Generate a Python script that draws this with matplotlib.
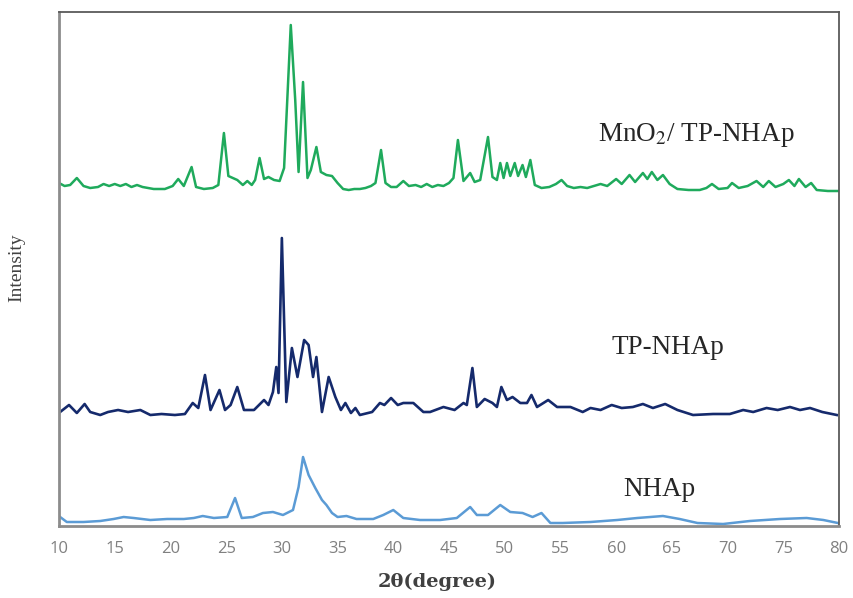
import matplotlib
matplotlib.use("Agg")
import matplotlib.pyplot as plt

# ---- data (2theta in degree, intensity in a.u., stacked as displayed) ----
mno2_x = [10.0, 10.5, 11.0, 11.6, 12.2, 12.8, 13.5, 14.0, 14.5, 15.0, 15.5, 16.0, 16.5, 17.0,
          17.5, 18.0, 18.5, 19.0, 19.5, 20.2, 20.7, 21.2, 21.9, 22.3, 23.0, 23.8, 24.3, 24.8,
          25.2, 25.6, 26.0, 26.5, 26.9, 27.3, 27.6, 28.0, 28.4, 28.8, 29.3, 29.8, 30.2, 30.8,
          31.2, 31.5, 31.9, 32.3, 32.6, 33.1, 33.5, 34.0, 34.5, 35.0, 35.5, 36.0, 36.5, 37.0,
          37.5, 38.0, 38.4, 38.9, 39.3, 39.8, 40.3, 40.9, 41.4, 42.0, 42.5, 43.0, 43.5, 44.0,
          44.5, 45.0, 45.4, 45.8, 46.3, 46.9, 47.3, 47.8, 48.5, 48.9, 49.3, 49.6, 49.9, 50.2,
          50.5, 50.9, 51.2, 51.6, 51.9, 52.3, 52.7, 53.3, 54.0, 54.6, 55.1, 55.6, 56.2, 56.8,
          57.4, 58.0, 58.6, 59.2, 60.0, 60.5, 61.2, 61.7, 62.4, 62.8, 63.2, 63.7, 64.2, 64.8,
          65.5, 66.5, 67.5, 68.1, 68.6, 69.2, 70.0, 70.4, 71.0, 71.8, 72.6, 73.2, 73.7, 74.3,
          75.0, 75.5, 76.0, 76.4, 77.0, 77.5, 78.0, 79.0, 80.0]
mno2_y = [343, 340, 341, 348, 340, 338, 339, 342, 340, 342, 340, 342, 339, 341,
          339, 338, 337, 337, 337, 340, 347, 340, 359, 339, 337, 338, 341, 393,
          350, 348, 346, 341, 345, 341, 346, 368, 347, 349, 346, 345, 358, 501,
          426, 354, 444, 348, 356, 379, 354, 351, 350, 343, 337, 336, 337, 337,
          338, 340, 343, 376, 343, 339, 339, 345, 340, 341, 339, 342, 339, 341,
          340, 343, 348, 386, 345, 353, 344, 346, 389, 349, 346, 363, 348, 363,
          350, 363, 350, 361, 349, 366, 341, 338, 339, 342, 346, 340, 338, 339,
          338, 340, 342, 340, 347, 342, 351, 344, 353, 347, 354, 346, 351, 342,
          337, 336, 336, 338, 342, 337, 338, 343, 338, 340, 345, 339, 345, 339,
          342, 346, 340, 347, 339, 343, 336, 335, 335]

tp_x = [10.1, 10.9, 11.6, 12.3, 12.8, 13.7, 14.4, 15.3, 16.2, 17.3, 18.2, 19.2, 20.4, 21.3,
        22.0, 22.5, 23.1, 23.6, 24.4, 24.9, 25.4, 26.0, 26.6, 27.5, 28.4, 28.8, 29.2, 29.5,
        29.7, 30.0, 30.4, 30.9, 31.4, 32.0, 32.4, 32.8, 33.1, 33.6, 34.2, 34.8, 35.3, 35.7,
        36.2, 36.6, 37.0, 38.1, 38.8, 39.2, 39.8, 40.4, 40.9, 41.8, 42.7, 43.3, 44.5, 45.5,
        46.3, 46.6, 47.1, 47.5, 48.2, 48.9, 49.3, 49.7, 50.2, 50.7, 51.4, 52.0, 52.4, 52.9,
        53.9, 54.7, 55.9, 57.0, 57.7, 58.6, 59.6, 60.5, 61.5, 62.4, 63.3, 64.4, 65.5, 66.9,
        68.7, 70.2, 71.4, 72.3, 73.5, 74.5, 75.6, 76.5, 77.4, 78.5, 79.8]
tp_y = [114, 121, 113, 122, 114, 111, 114, 116, 114, 116, 111, 112, 111, 112,
        123, 118, 151, 116, 136, 116, 121, 139, 116, 116, 126, 121, 134, 159,
        133, 288, 124, 178, 149, 186, 181, 149, 169, 114, 149, 129, 116, 123,
        113, 118, 111, 114, 123, 121, 128, 121, 123, 123, 114, 114, 119, 116,
        123, 121, 158, 119, 127, 123, 119, 139, 126, 129, 123, 123, 131, 119,
        126, 119, 119, 114, 118, 116, 121, 118, 119, 122, 118, 122, 116, 111,
        112, 112, 116, 114, 118, 116, 119, 116, 118, 114, 111]

nhap_x = [10.1, 10.7, 12.2, 13.7, 14.9, 15.8, 16.7, 18.2, 19.7, 21.2, 22.1, 22.9, 23.9, 25.1,
          25.8, 26.4, 27.4, 28.3, 29.2, 30.1, 31.0, 31.5, 31.9, 32.4, 33.0, 33.6, 34.0, 34.5,
          35.0, 35.8, 36.7, 38.2, 39.1, 40.0, 40.9, 42.4, 44.2, 45.7, 46.9, 47.5, 48.5, 49.6,
          50.5, 51.6, 52.5, 53.3, 54.1, 55.2, 57.7, 60.1, 61.9, 64.2, 65.7, 67.3, 69.6, 72.0,
          74.7, 77.1, 78.6, 79.9]
nhap_y = [9, 4, 4, 5, 7, 9, 8, 6, 7, 7, 8, 10, 8, 9,
          28, 8, 9, 13, 14, 11, 16, 39, 69, 51, 38, 26, 21, 13,
          9, 10, 7, 7, 11, 16, 8, 6, 6, 8, 19, 11, 11, 21,
          14, 13, 9, 13, 3, 3, 4, 6, 8, 10, 7, 3, 2, 5,
          7, 8, 6, 3]

labels = ["MnO$_2$/ TP-NHAp", "TP-NHAp", "NHAp"]
xticks = [10, 15, 20, 25, 30, 35, 40, 45, 50, 55, 60, 65, 70, 75, 80]

plt.rcParams["mathtext.fontset"] = "stix"

fig = plt.figure(figsize=(8.54, 5.98), dpi=100)
ax = fig.add_axes([59 / 854, 1 - 526 / 598, 780 / 854, 514 / 598])

ax.plot(mno2_x, mno2_y, color="#1faa5c", lw=1.8)
ax.plot(tp_x, tp_y, color="#152a6c", lw=1.9)
ax.plot(nhap_x, nhap_y, color="#5b9bd5", lw=1.8)

ax.set_xlim(10, 80)
ax.set_ylim(0, 514)
ax.set_xticks(xticks)
ax.set_xticklabels([str(t) for t in xticks], fontfamily="Open Sans", fontsize=12, color="#808080")
ax.set_yticks([])
ax.tick_params(axis="x", length=0, pad=11)

for side in ["left", "bottom"]:
    ax.spines[side].set_color("#8c8c8c")
    ax.spines[side].set_linewidth(2.0)
for side in ["top", "right"]:
    ax.spines[side].set_color("#5a5a5a")
    ax.spines[side].set_linewidth(1.3)

txt_kw = dict(fontfamily="Liberation Serif", fontsize=19.5, color="#262626", ha="center", va="center")
ax.text(67.2, 391, labels[0], **txt_kw)
ax.text(64.6, 179, labels[1], **txt_kw)
ax.text(63.9, 36, labels[2], **txt_kw)

ax.set_xlabel("2θ(degree)", fontfamily="DejaVu Serif", fontweight="bold", fontsize=14, color="#404040")
ax.xaxis.set_label_coords(0.485, -0.091)
ax.set_ylabel("Intensity", fontfamily="Liberation Serif", fontsize=14, color="#404040",
              ha="center", va="center")
ax.yaxis.set_label_coords(-0.054, 0.502)

fig.savefig("out.png", dpi=100)
